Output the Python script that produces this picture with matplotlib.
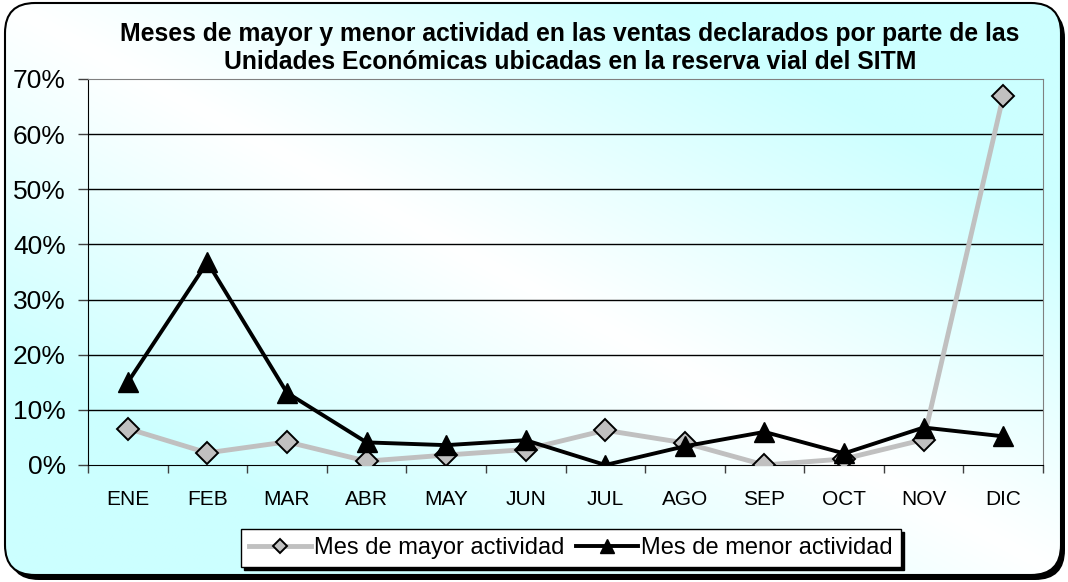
import matplotlib.pyplot as plt
import numpy as np
from matplotlib.patches import FancyBboxPatch
from matplotlib.ticker import FixedLocator, PercentFormatter

plt.rcParams['font.family'] = ['Liberation Sans', 'DejaVu Sans']

meses = ["ENE", "FEB", "MAR", "ABR", "MAY", "JUN", "JUL", "AGO", "SEP", "OCT", "NOV", "DIC"]
mayor = [6.6, 2.2, 4.2, 0.7, 1.8, 2.8, 6.3, 4.0, 0.0, 1.1, 4.6, 66.9]  # % mes de mayor actividad
menor = [15.0, 36.8, 13.1, 4.1, 3.6, 4.5, 0.0, 3.4, 6.0, 2.1, 6.8, 5.2]  # % mes de menor actividad

titulo = ("Meses de mayor y menor actividad en las ventas declarados por parte de las\n"
          "Unidades Económicas ubicadas en la reserva vial del SITM")

fig = plt.figure(figsize=(10.68, 5.82), dpi=100)

# fondo con degradado y borde redondeado
bg = fig.add_axes([0, 0, 1, 1])
bg.set_xlim(0, 1068)
bg.set_ylim(582, 0)
bg.axis("off")
gx, gy = np.meshgrid(np.linspace(0, 1, 400), np.linspace(0, 1, 220))
t = np.clip(np.abs(gx - gy) * 1.6, 0, 1)
cyan = np.array([0.80, 1.0, 1.0])
white = np.array([1.0, 1.0, 1.0])
img = white[None, None, :] * (1 - t[..., None]) + cyan[None, None, :] * t[..., None]
shadow = FancyBboxPatch((9, 8), 1056, 572, boxstyle="round,pad=0,rounding_size=30",
                        facecolor="black", edgecolor="black", lw=0)
bg.add_patch(shadow)
frame = FancyBboxPatch((5, 3), 1056, 572, boxstyle="round,pad=0,rounding_size=30",
                       facecolor="none", edgecolor="black", lw=1.5, zorder=3)
bg.add_patch(frame)
im = bg.imshow(img, extent=(5, 1061, 575, 3), aspect="auto", zorder=2)
im.set_clip_path(frame)

ax = fig.add_axes([88 / 1068, 1 - 465 / 582, 955 / 1068, 386 / 582])
ax.set_facecolor("none")
x = np.arange(len(meses))

ax.plot(x, mayor, color="#C0C0C0", lw=3.5, marker="D", ms=11, mfc="#C0C0C0",
        mec="black", mew=1.4, label="Mes de mayor actividad", zorder=3)
ax.plot(x, menor, color="black", lw=2.8, marker="^", ms=15, mfc="black",
        mec="black", label="Mes de menor actividad", zorder=4)

ax.set_xlim(-0.5, len(meses) - 0.5)
ax.set_ylim(0, 70)
ax.set_yticks(np.arange(0, 71, 10))
ax.yaxis.set_major_formatter(PercentFormatter(decimals=0))
ax.set_xticks(x)
ax.set_xticklabels(meses)
ax.xaxis.set_minor_locator(FixedLocator(np.arange(-0.5, len(meses), 1)))
ax.tick_params(axis="x", which="major", length=0, pad=18, labelsize=15)
ax.tick_params(axis="x", which="minor", length=6, width=1, color="#404040")
ax.tick_params(axis="y", length=7, width=1, color="#404040", labelsize=19, pad=9)
for v in range(10, 70, 10):
    ax.axhline(v, color="black", lw=1, zorder=1)
ax.spines["top"].set_color("#808080")
ax.spines["right"].set_color("#808080")
ax.spines["left"].set_color("black")
ax.spines["bottom"].set_color("black")

fig.text(570 / 1068, 1 - 48 / 582, titulo, ha="center", va="center", fontsize=17.8,
         fontweight="bold", linespacing=1.25)

leg = ax.legend(loc="center", bbox_to_anchor=(571 / 1068, 1 - 548 / 582),
                bbox_transform=fig.transFigure, ncol=2, frameon=True, fancybox=False,
                shadow={"color": "black", "alpha": 1}, fontsize=17, handlelength=2.6,
                handletextpad=0.15, columnspacing=0.5, borderpad=0.35, markerscale=0.65)
leg.get_frame().set_edgecolor("black")
leg.get_frame().set_linewidth(1)
leg.get_frame().set_facecolor("white")

fig.savefig("out.png", dpi=100)
